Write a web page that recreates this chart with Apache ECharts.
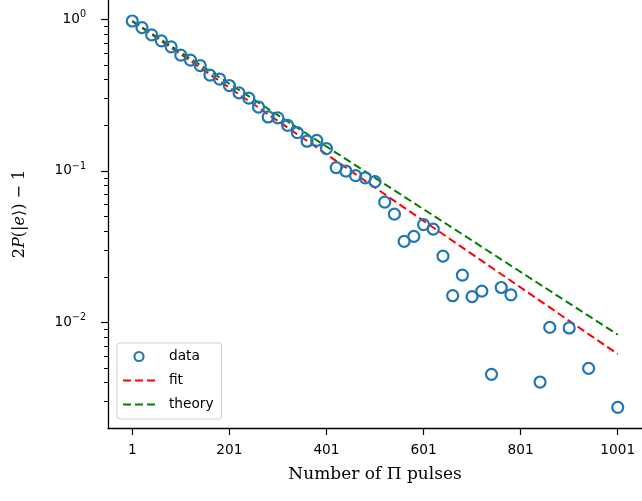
<!DOCTYPE html>
<html>
<head>
<meta charset="utf-8">
<script src="https://cdn.jsdelivr.net/npm/echarts@6/dist/echarts.min.js"></script>
<style>
html,body{margin:0;padding:0;background:#fff;}
#chart{width:642px;height:501px;}
</style>
</head>
<body>
<div id="chart"></div>
<script>
// Number of pulses (x) and measured 2P(|e>)-1 (null = not shown on log scale)
const pulses = [1,21,41,61,81,101,121,141,161,181,201,221,241,261,281,301,321,341,361,381,401,421,441,461,481,501,521,541,561,581,601,621,641,661,681,701,721,741,761,781,801,821,841,861,881,901,921,941,961,981,1001];
const dataValues = [0.976,0.882,0.790,0.722,0.659,0.581,0.539,0.495,0.429,0.404,0.366,0.327,0.302,0.264,0.227,0.224,0.200,0.179,0.157,0.159,0.1405,0.105,0.0998,0.093,0.090,0.085,0.0622,0.0518,0.0343,0.0370,0.0442,0.0413,0.0274,0.0150,0.0205,0.0148,0.0161,0.00454,0.0170,0.0152,null,null,0.00404,0.00927,null,0.00919,null,0.00497,null,null,0.00275];
const fitX = [1,1001];
const fitY = [0.975,0.00618];
const theoryX = [1,1001];
const theoryY = [0.975,0.0083];
const xTicks = [1,201,401,601,801,1001];
const yTicks = [0.01,0.1,1];
const yMinorTicks = [0.003,0.004,0.005,0.006,0.007,0.008,0.009,0.02,0.03,0.04,0.05,0.06,0.07,0.08,0.09,0.2,0.3,0.4,0.5,0.6,0.7,0.8,0.9];
const yExp = {0.01:'−2',0.1:'−1',1:'0'};

const scatterData = pulses.map((p,i)=>[p,dataValues[i]]).filter(d=>d[1]!==null);
const fitData = fitX.map((x,i)=>[x,fitY[i]]);
const theoryData = theoryX.map((x,i)=>[x,theoryY[i]]);

const chart = echarts.init(document.getElementById('chart'), null, {renderer:'canvas'});
const yMin = 0.002009, yMax = 1.343;
const axisLineStyle = {color:'#000', width:1.3};
const dashIcon = 'path://M0,-6L32,-6M0,6L32,6M0,-1h8v2h-8zM12,-1h8v2h-8zM24,-1h8v2h-8z';
const ringIcon = 'path://M-16,-6L16,-6M-16,6L16,6M-5.6,0a5.6,5.6 0 1,0 11.2,0a5.6,5.6 0 1,0 -11.2,0zM-3.5,0a3.5,3.5 0 1,1 7,0a3.5,3.5 0 1,1 -7,0z';
const option = {
  animation:false,
  backgroundColor:'#fff',
  grid:{left:108, right:-3, top:-2.8, bottom:73, containLabel:false},
  xAxis:{
    type:'value', min:-49, max:1051,
    axisLine:{show:true, onZero:false, lineStyle:axisLineStyle},
    axisTick:{show:true, length:7, lineStyle:{color:'#000', width:1.2}, customValues:xTicks},
    axisLabel:{customValues:xTicks, color:'#000', fontFamily:'DejaVu Sans', fontSize:13.7, margin:15,
      formatter:function(v){return String(Math.round(v));}},
    splitLine:{show:false},
    name:'Number of Π pulses', nameLocation:'middle', nameGap:38,
    nameTextStyle:{fontFamily:'DejaVu Serif', fontSize:17, color:'#000'}
  },
  yAxis:[{
    type:'log', logBase:10, min:yMin, max:yMax,
    axisLine:{show:true, onZero:false, lineStyle:axisLineStyle},
    axisTick:{show:true, length:7, lineStyle:{color:'#000', width:1.2}, customValues:yTicks},
    axisLabel:{customValues:yTicks, color:'#000',margin:22,
      formatter:function(v){
        let key = v<0.05?0.01:(v<0.5?0.1:1);
        return '{b|10}{s|'+yExp[key]+'}';
      },
      rich:{
        b:{fontFamily:'DejaVu Sans', fontSize:13.7, color:'#000'},
        s:{fontFamily:'DejaVu Sans', fontSize:9.6, color:'#000', padding:[0,0,9,0]}
      }
    },
    splitLine:{show:false},
    name:'{n|2}{i|P}{n|(|}{i|e}{n|⟩) − 1}', nameLocation:'middle', nameGap:80, nameRotate:90,
    nameTextStyle:{
      rich:{
        n:{fontFamily:'DejaVu Serif', fontSize:16, color:'#000'},
        i:{fontFamily:'DejaVu Serif', fontStyle:'italic', fontSize:16, color:'#000'}
      }
    }
  },{
    type:'log', logBase:10, min:yMin, max:yMax, position:'left',
    axisLine:{show:false, onZero:false},
    axisTick:{show:true, length:4, lineStyle:{color:'#000', width:1}, customValues:yMinorTicks},
    axisLabel:{show:false},
    splitLine:{show:false}
  }],
  legend:{
    orient:'vertical', left:117, top:343,
    padding:[6.5,8,7.5,6], itemGap:10, itemWidth:32, itemHeight:12,
    borderColor:'#d0d0d0', borderWidth:1, borderRadius:3,
    backgroundColor:'rgba(255,255,255,0.85)',
    textStyle:{fontFamily:'DejaVu Sans', fontSize:13.7, color:'#000', padding:[0,0,0,9]},
    data:[
      {name:'data', icon:ringIcon, itemStyle:{color:'#1f77b4', borderWidth:0}},
      {name:'fit', icon:dashIcon, itemStyle:{color:'#ff0000', borderWidth:0}},
      {name:'theory', icon:dashIcon, itemStyle:{color:'#008000', borderWidth:0}}
    ]
  },
  series:[
    {name:'fit', type:'line', data:fitData, symbol:'none', showSymbol:false, z:2,
      lineStyle:{color:'#ff0000', width:2, type:[8,4]}, itemStyle:{color:'#ff0000'}},
    {name:'theory', type:'line', data:theoryData, symbol:'none', showSymbol:false, z:2,
      lineStyle:{color:'#008000', width:2, type:[8,4]}, itemStyle:{color:'#008000'}},
    {name:'data', type:'scatter', data:scatterData, symbol:'circle', symbolSize:11, z:3,
      itemStyle:{color:'rgba(255,255,255,0)', borderColor:'#1f77b4', borderWidth:2.2, opacity:1}}
  ]
};
chart.setOption(option);
</script>
</body>
</html>
